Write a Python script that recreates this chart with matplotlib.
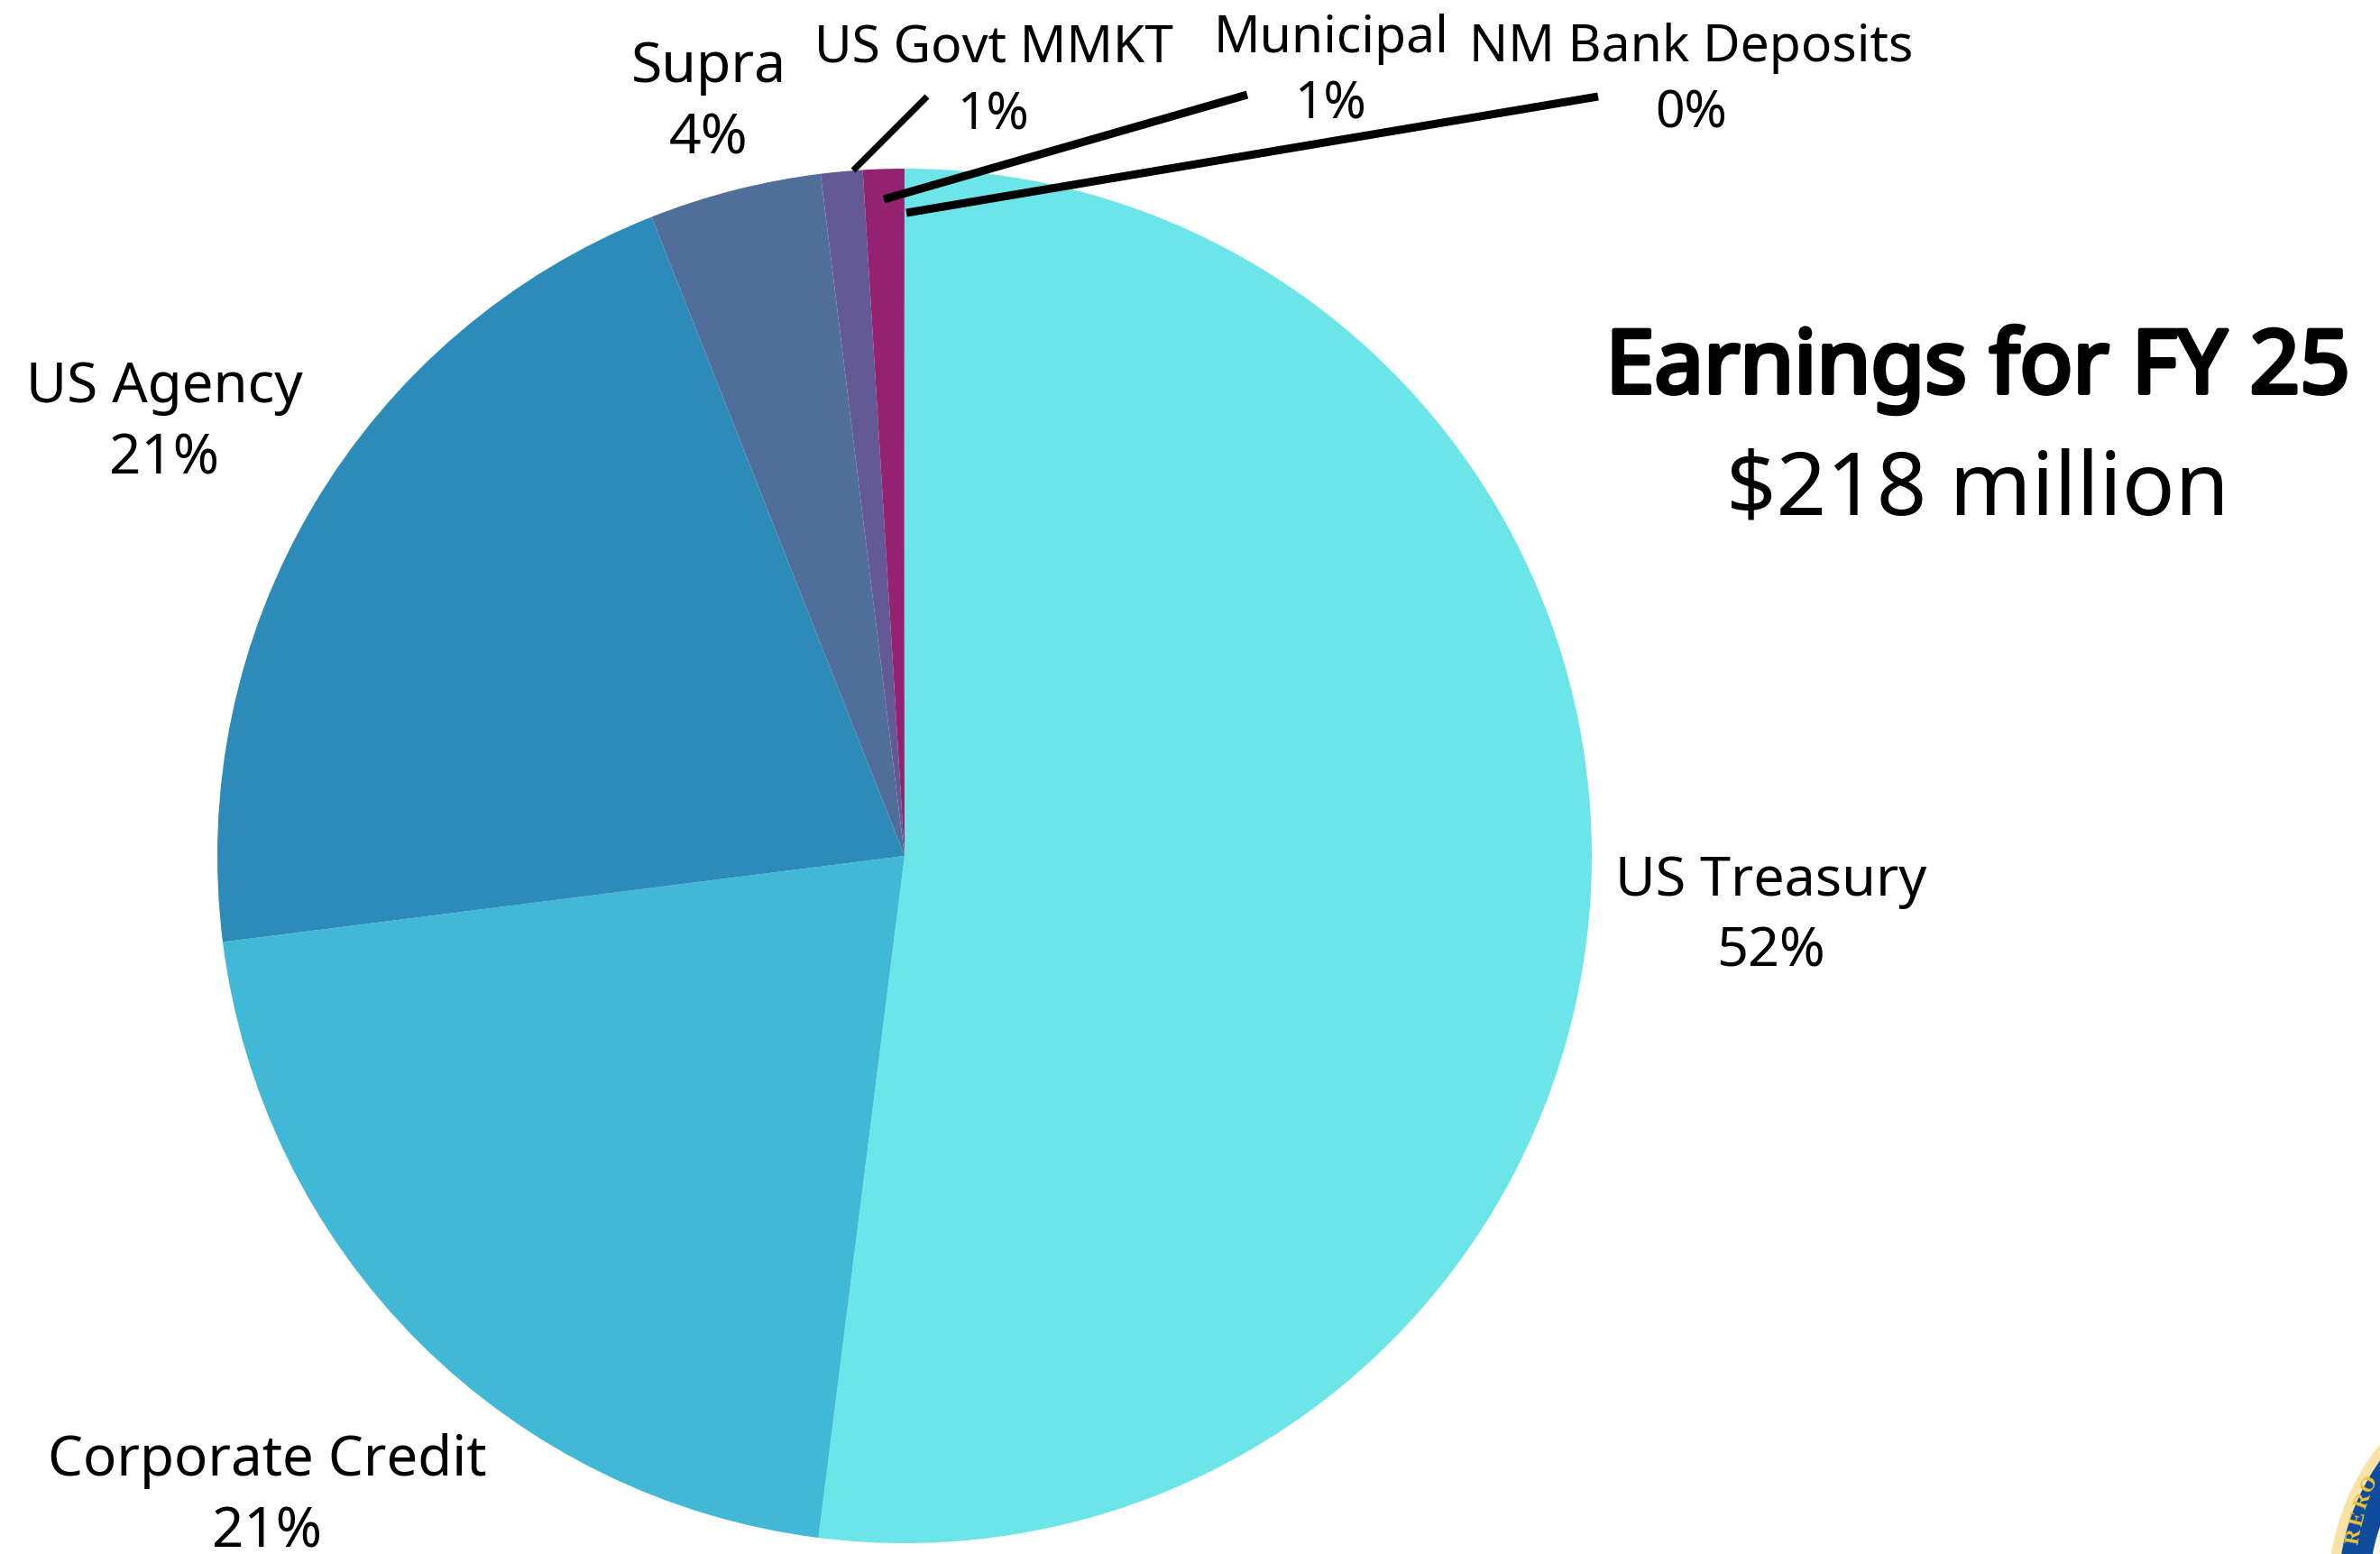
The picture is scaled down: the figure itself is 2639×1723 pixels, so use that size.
"""
Earnings for FY 25 pie, drawn on a pixel-sized axes
"""
import matplotlib
matplotlib.use('Agg')
import matplotlib.pyplot as plt
import matplotlib.patheffects as pe
from matplotlib.patches import Circle

plt.rcParams['font.family'] = ['Noto Sans', 'DejaVu Sans']

W, H = 2639, 1724

CATEGORIES = ['US Treasury', 'Corporate Credit', 'US Agency', 'Supra',
              'US Govt MMKT', 'Municipal', 'NM Bank Deposits']
SHARES = [52.0, 21.0, 21.0, 4.05, 0.98, 0.95, 0.02]
SHOWN_PCT = ['52%', '21%', '21%', '4%', '1%', '1%', '0%']
COLORS = ['#6ce5e8', '#41b8d5', '#2d8bba', '#506e9a', '#635994', '#942270', '#942270']


def py(y):
    # picture pixels count from the top
    return H - y


fig = plt.figure(figsize=(W / 100, H / 100), dpi=100)
ax = fig.add_axes([0, 0, 1, 1])

ax.pie(SHARES, colors=COLORS, startangle=90, counterclock=False,
       center=(1003, py(950)), radius=762, frame=True,
       wedgeprops={'linewidth': 0})
ax.set_xlim(0, W)
ax.set_ylim(0, H)
ax.set_aspect('equal')
ax.axis('off')

# label centres and sizes, one per category
label_xy = [(1964, 1017), (296, 1660), (182, 470), (786, 115),
            (1102, 92), (1476, 80), (1875, 90)]
label_size = [44, 44.5, 44.5, 45, 41, 41, 41]
for name, pct, (x, y), size in zip(CATEGORIES, SHOWN_PCT, label_xy, label_size):
    ax.text(x, py(y), name + '\n' + pct, ha='center', va='center',
            fontsize=size, linespacing=1.38, color='black')

# leader lines for the three small slices
leaders = [((1028, 108), (946, 190), 7), ((1383, 106), (980, 222), 9),
           ((1772, 108), (1005, 237), 9)]
for (x0, y0), (x1, y1), lw in leaders:
    ax.plot([x0, x1], [py(y0), py(y1)], color='black', lw=lw * 0.72,
            solid_capstyle='butt', zorder=5)

# no bold face turned up for this family, so thicken the title with a stroke
ax.text(2193, py(411), 'Earnings for FY 25', ha='center', va='center',
        fontsize=70, color='black',
        path_effects=[pe.withStroke(linewidth=3.5, foreground='black')])
ax.text(2193, py(545), '$218 million', ha='center', va='center',
        fontsize=70, color='black')

# seal in the bottom right corner, mostly off the page
seal_c = (2840, py(1764))
ax.add_patch(Circle(seal_c, 258, fc='#f8e2a6', ec='none'))
ax.add_patch(Circle(seal_c, 247, fc='#0f4c9c', ec='none'))
ax.add_patch(Circle(seal_c, 213, fc='#fbf7ea', ec='none'))
for ch, x, y, rot in [('R', 2611, 1704, 80), ('E', 2615, 1684, 76),
                      ('R', 2620, 1664, 70), ('O', 2627, 1645, 62)]:
    ax.text(x, py(y), ch, ha='center', va='center', rotation=rot,
            fontsize=17, fontweight='bold', color='#eec23c',
            family='Liberation Serif', clip_on=True)

fig.savefig('out.png', dpi=100, facecolor='white')
